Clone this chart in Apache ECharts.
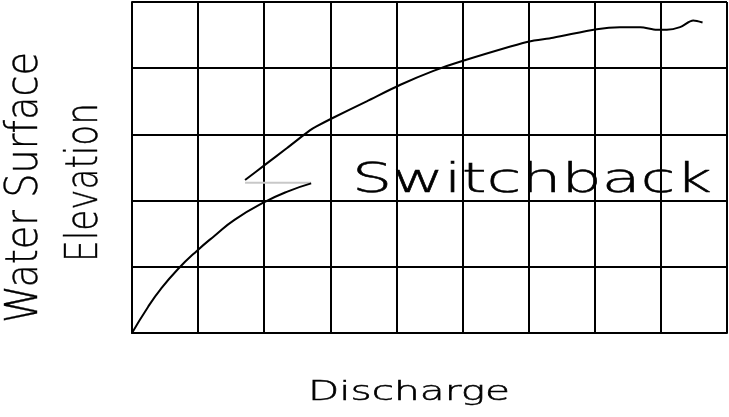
<!DOCTYPE html>
<html>
<head>
<meta charset="utf-8">
<script src="https://cdn.jsdelivr.net/npm/echarts@6/dist/echarts.min.js"></script>
<style>
html,body{margin:0;padding:0;background:#fff;}
#c{width:729px;height:417px;}
</style>
</head>
<body>
<div id="c"></div>
<script>
// ---- data ----
var xTicks = [0,1,2,3,4,5,6,7,8,9];
var yTicks = [0,1,2,3,4,5];
var lowerX = [0, 0.24, 0.44, 0.70, 0.98, 1.25, 1.55, 2.01, 2.36, 2.71];
var lowerY = [0, 0.39, 0.67, 0.97, 1.24, 1.47, 1.71, 1.98, 2.14, 2.26];
var upperX = [1.71, 2.01, 2.34, 2.69, 2.79, 3.02, 3.55, 4.06, 4.56, 5.03, 5.99, 6.37, 7.03, 7.38, 7.69, 7.94, 8.09, 8.29, 8.49, 8.63];
var upperY = [2.31, 2.54, 2.79, 3.06, 3.12, 3.24, 3.50, 3.75, 3.96, 4.12, 4.40, 4.46, 4.59, 4.62, 4.62, 4.58, 4.58, 4.62, 4.72, 4.69];
var switchX = [1.71, 2.71];
var switchY = [2.27, 2.27];
var annotation = 'Switchback';
var xName = 'Discharge';
var yName1 = 'Water Surface';
var yName2 = 'Elevation';

function pairs(xs, ys){ return xs.map(function(x,i){ return [x, ys[i]]; }); }

var FONT_FAMILY = '"DejaVu Sans", "Liberation Sans", sans-serif';
var FONT_WEIGHT = 200;
var mctx = document.createElement('canvas').getContext('2d');
function measure(text, size){
  mctx.font = FONT_WEIGHT + ' ' + size + 'px ' + FONT_FAMILY;
  return mctx.measureText(text).width;
}
function label(text, size, cx, cy, targetLen, rot, strokeW){
  var w = measure(text, size);
  var st = {
    text: text,
    fill: '#000',
    fontFamily: FONT_FAMILY,
    fontWeight: FONT_WEIGHT,
    fontSize: size,
    align: 'center',
    verticalAlign: 'middle'
  };
  if (strokeW) { st.stroke = '#000'; st.lineWidth = strokeW; }
  return {
    type: 'text',
    x: cx, y: cy,
    rotation: rot || 0,
    scaleX: targetLen / w,
    scaleY: 1,
    silent: true,
    style: st
  };
}

var chart = echarts.init(document.getElementById('c'), null, {renderer: 'canvas'});
chart.setOption({
  animation: false,
  backgroundColor: '#fff',
  grid: {left: 132, right: 2, top: 2, bottom: 84, containLabel: false},
  xAxis: {
    type: 'value', min: xTicks[0], max: xTicks[xTicks.length-1], interval: 1,
    axisLine: {show: true, lineStyle: {color: '#000', width: 2}},
    axisTick: {show: false},
    axisLabel: {show: false},
    splitLine: {show: true, lineStyle: {color: '#000', width: 2}}
  },
  yAxis: {
    type: 'value', min: yTicks[0], max: yTicks[yTicks.length-1], interval: 1,
    axisLine: {show: true, lineStyle: {color: '#000', width: 2}},
    axisTick: {show: false},
    axisLabel: {show: false},
    splitLine: {show: true, lineStyle: {color: '#000', width: 2}}
  },
  series: [
    {type: 'line', data: pairs(switchX, switchY), symbol: 'none', silent: true,
     lineStyle: {color: '#c8c8c8', width: 2}, z: 3},
    {type: 'line', data: pairs(lowerX, lowerY), symbol: 'none', smooth: 0.5, silent: true,
     lineStyle: {color: '#000', width: 2}, z: 4},
    {type: 'line', data: pairs(upperX, upperY), symbol: 'none', smooth: 0.3, silent: true,
     lineStyle: {color: '#000', width: 2}, z: 4}
  ],
  graphic: [
    label(annotation, 41, 532, 181, 360, 0, 0.5),
    label(xName, 26, 409, 393.5, 202, 0, 0.5),
    label(yName1, 45, 25, 187.5, 271, Math.PI/2, 0.4),
    label(yName2, 45, 85, 182.5, 159, Math.PI/2, 0.4)
  ]
});
</script>
</body>
</html>
